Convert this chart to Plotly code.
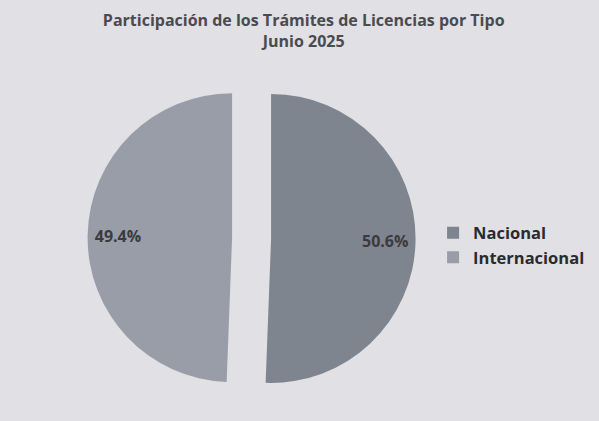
import plotly.graph_objects as go

labels = ["Nacional", "Internacional"]
values = [50.6, 49.4]
colors = ["#7f858f", "#989da8"]
title_line1 = "Participación de los Trámites de Licencias por Tipo"
title_line2 = "Junio 2025"

pie_domain = dict(x=[0.146, 0.694], y=[0.045, 0.824])
pulls = [0.135, 0.135]

fig = go.Figure()
# main pie (slices)
fig.add_trace(go.Pie(
    labels=labels,
    values=values,
    sort=False,
    direction="clockwise",
    rotation=0,
    pull=pulls,
    marker=dict(colors=colors, line=dict(width=0)),
    textinfo="none",
    domain=pie_domain,
    hoverinfo="label+percent",
))
# transparent ring trace that carries the percentage labels near the rim
fig.add_trace(go.Pie(
    labels=labels,
    values=values,
    sort=False,
    direction="clockwise",
    rotation=0,
    pull=pulls,
    hole=0.58,
    marker=dict(colors=["rgba(0,0,0,0)"] * 2, line=dict(width=0)),
    texttemplate="%{percent:.1%}",
    textposition="inside",
    insidetextorientation="horizontal",
    textfont=dict(family="Open Sans", size=16, color="#3a3a40", weight="bold"),
    domain=pie_domain,
    showlegend=False,
    hoverinfo="skip",
))

fig.update_layout(
    width=599, height=421,
    margin=dict(l=0, r=0, t=0, b=0),
    paper_bgcolor="#e0e0e5",
    plot_bgcolor="#e0e0e5",
    title=dict(
        text=f"<b>{title_line1}</b><br><b>{title_line2}</b>",
        x=0.507, xanchor="center", y=0.938, yanchor="middle",
        font=dict(family="Open Sans", size=16, color="#4a4a50"),
    ),
    legend=dict(
        x=0.723, y=0.418, xanchor="left", yanchor="middle",
        font=dict(family="Open Sans", size=16.5, color="#2a2a30", weight="bold"),
        bgcolor="rgba(0,0,0,0)",
        itemwidth=30,
    ),
    showlegend=True,
)

fig.write_html("out.html", config={"displayModeBar": False},
               post_script="document.body.style.margin='0';")
